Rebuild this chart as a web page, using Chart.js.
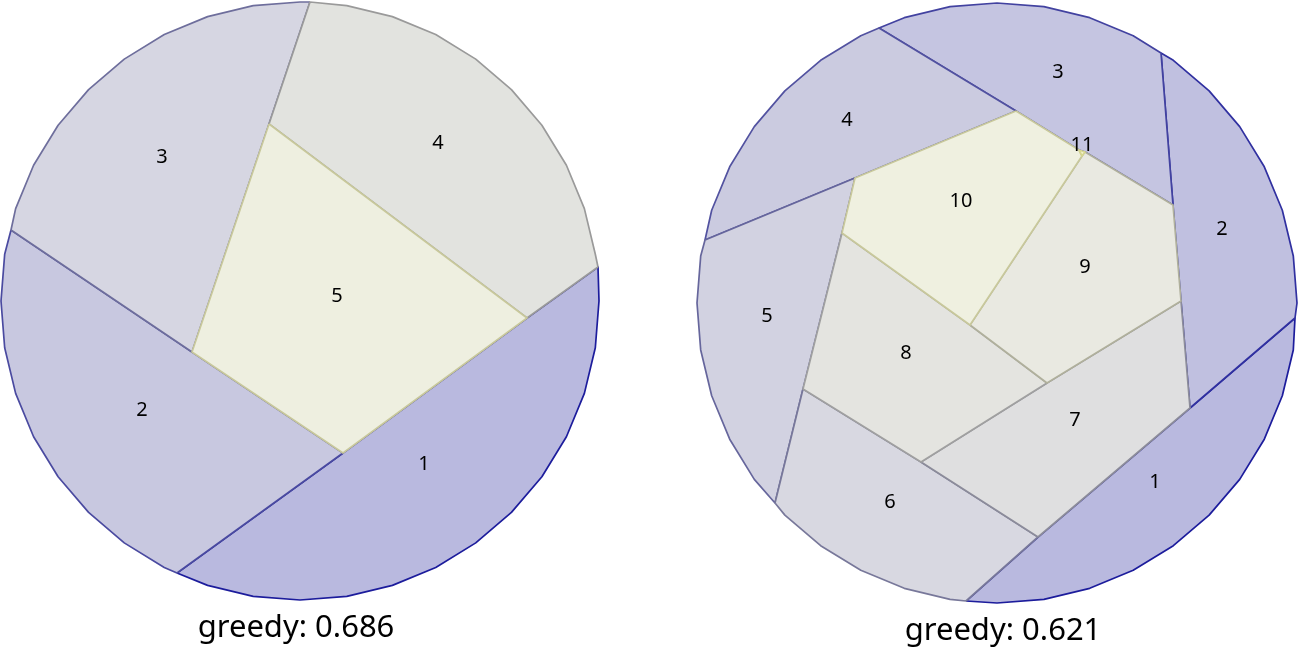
<!DOCTYPE html>
<html><head><meta charset="utf-8">
<script src="https://cdn.jsdelivr.net/npm/chart.js@4.4.1/dist/chart.umd.min.js"></script>
<style>html,body{margin:0;padding:0;background:#fff;overflow:hidden}#c{display:block}</style>
</head><body><canvas id="c" width="1298" height="647"></canvas>
<script>
// ---------- data: left treemap (greedy 0.686) ----------
const leftNames = ['1','2','3','4','5'];
const leftCells = [
  [[177,573],[343,453],[527,318],[598,267]],
  [[11,230],[192,352],[343,453],[177,573]],
  [[310,2],[269,124],[192,352],[11,230]],
  [[598,267],[527,318],[269,124],[310,2]],
  [[269,124],[527,318],[343,453],[192,352]]
];
const leftOnRim = [true,true,true,true,false];
const leftLabelAt = [[424,464],[142,410],[162,157],[438,143],[337,296]];
const leftScore = 0.686;

// ---------- data: right treemap (greedy 0.621) ----------
const rightNames = ['1','2','3','4','5','6','7','8','9','10','11'];
const rightCells = [
  [[966,601],[1038,537],[1190,408],[1295,318]],
  [[1295,318],[1190,408],[1181,301],[1173,205],[1161,53]],
  [[1161,53],[1173,205],[1085,152],[1079,150],[1016,111],[879,28]],
  [[879,28],[1016,111],[855,178],[705,240]],
  [[705,240],[855,178],[842,233],[803,389],[775,503]],
  [[775,503],[803,389],[921,462],[1038,537],[966,601]],
  [[1038,537],[921,462],[1047,383],[1181,301],[1190,408]],
  [[842,233],[970,325],[1047,383],[921,462],[803,389]],
  [[1082,156],[1085,152],[1173,205],[1181,301],[1047,383],[970,325]],
  [[1016,111],[1079,150],[1082,156],[970,325],[842,233],[855,178]],
  [[1079,150],[1085,152],[1082,156]]
];
const rightOnRim = [true,true,true,true,true,true,false,false,false,false,false];
const rightLabelAt = [[1155,482],[1222,229],[1058,72],[847,120],[767,316],[890,502],[1075,420],[906,353],[1085,267],[961,201],[1082,145]];
const rightScore = 0.621;

// ---------- styles ----------
const leftFill = ['#b9b9df','#c8c8e0','#d6d6e2','#e2e3df','#eeefe0'];
const leftLine = ['#1c1c9c','#4a4aa0','#6e6e9c','#9a9a9a','#c8c89b'];
const rightFill = ['#b9b9df','#c0c0e0','#c5c5e1','#cbcbe0','#d2d2e1','#d8d8e1','#dfdfe0','#e4e4e0','#e9e9e1','#eff0e0','#f2f2cc'];
const rightLine = ['#1c1c9c','#3030a0','#4242a0','#5252a0','#66669c','#78789a','#8c8c9a','#a0a0a0','#b0b09c','#c8c89b','#d6d690'];
const rims = [{cx:300,cy:301,r:299},{cx:997,cy:303,r:300}];
const titleAt = [[296,637],[1003,640]];

// arc points along the clipping circle (clockwise on screen) between two rim vertices
function arcBetween(rim, a, b){
  const step = 9*Math.PI/180;
  let t0 = Math.atan2(a[1]-rim.cy, a[0]-rim.cx);
  let t1 = Math.atan2(b[1]-rim.cy, b[0]-rim.cx);
  while (t1 <= t0) t1 += 2*Math.PI;
  const pts = [];
  let k = Math.ceil(t0/step + 1e-6);
  for (let t = k*step; t < t1 - 1e-6; t += step) {
    pts.push([rim.cx + rim.r*Math.cos(t), rim.cy + rim.r*Math.sin(t)]);
  }
  return pts;
}
function buildDatasets(cells, onRim, fills, lines, rim, offset){
  return cells.map((cell, i) => {
    let pts = cell.slice();
    if (onRim[i]) pts = pts.concat(arcBetween(rim, cell[cell.length-1], cell[0]));
    pts.push(cell[0]);
    return {
      data: pts.map(p => ({x:p[0], y:p[1]})),
      showLine: true, fill: 'shape', tension: 0,
      backgroundColor: fills[i], borderColor: lines[i], borderWidth: 1.7,
      pointRadius: 0, pointHoverRadius: 0, order: -(offset + i)
    };
  });
}
const datasets = buildDatasets(leftCells, leftOnRim, leftFill, leftLine, rims[0], 0)
  .concat(buildDatasets(rightCells, rightOnRim, rightFill, rightLine, rims[1], 20));

const labelPlugin = {
  id: 'cellLabels',
  afterDatasetsDraw(chart){
    const {ctx, scales:{x, y}} = chart;
    ctx.save();
    ctx.fillStyle = '#000';
    ctx.textAlign = 'center';
    ctx.textBaseline = 'middle';
    ctx.font = '20px "Noto Sans", sans-serif';
    const put = (names, at) => names.forEach((n, i) => ctx.fillText(n, x.getPixelForValue(at[i][0]), y.getPixelForValue(at[i][1])));
    put(leftNames, leftLabelAt);
    put(rightNames, rightLabelAt);
    ctx.font = '31px "Noto Sans", sans-serif';
    ctx.textBaseline = 'alphabetic';
    [leftScore, rightScore].forEach((s, i) => ctx.fillText('greedy: ' + s.toFixed(3), x.getPixelForValue(titleAt[i][0]), y.getPixelForValue(titleAt[i][1])));
    ctx.restore();
  }
};

new Chart(document.getElementById('c'), {
  type: 'scatter',
  data: { datasets },
  options: {
    responsive: false, animation: false, devicePixelRatio: 1,
    layout: { padding: 0 },
    plugins: { legend: {display:false}, tooltip: {enabled:false}, filler: {propagate:false} },
    scales: {
      x: { type:'linear', min:0, max:1298, display:false },
      y: { type:'linear', min:0, max:647, reverse:true, display:false }
    },
    elements: { line: { borderJoinStyle: 'round' } }
  },
  plugins: [labelPlugin]
});
</script>
</body></html>
